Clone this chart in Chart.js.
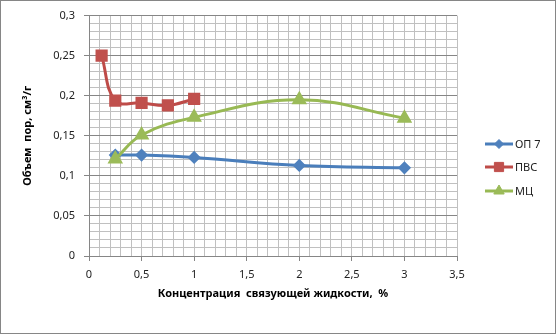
<!DOCTYPE html>
<html>
<head>
<meta charset="utf-8">
<script src="https://cdn.jsdelivr.net/npm/chart.js@4/dist/chart.umd.min.js"></script>
<style>
  body { margin: 0; background: #fff; }
  canvas { display: block; }
</style>
</head>
<body>
<canvas id="chart" width="556" height="334"></canvas>
<script>
// --- Data ---
const seriesNames = ['ОП 7', 'ПВС', 'МЦ'];
const opX = [0.25, 0.5, 1, 2, 3];
const opY = [0.126, 0.126, 0.123, 0.113, 0.110];
const pvsX = [0.12, 0.25, 0.5, 0.75, 1];
const pvsY = [0.25, 0.194, 0.191, 0.188, 0.196];
const mcX = [0.25, 0.5, 1, 2, 3];
const mcY = [0.121, 0.151, 0.173, 0.195, 0.172];

const xTitle = 'Концентрация  связующей жидкости,  %';
const yTitle = 'Объем  пор, см³/г';

const FONT = 'Noto Sans';
const MAJOR = '#868686';
const MINOR = '#c0c0c0';

const toPoints = (xs, ys) => xs.map((x, i) => ({ x: x, y: ys[i] }));
const isMult = (v, step) => Math.abs(v / step - Math.round(v / step)) < 1e-6;
const fmt = (v) => String(Math.round(v * 100) / 100).replace('.', ',');

const makeSet = (label, pts, line, fill, style, radius, order) => ({
    label: label,
    data: pts,
    borderColor: line,
    backgroundColor: fill,
    pointBackgroundColor: fill,
    pointBorderColor: fill,
    pointStyle: style,
    pointRadius: radius,
    borderWidth: 3,
    tension: 0.4,
    order: order
});

const datasets = [
    makeSet(seriesNames[0], toPoints(opX, opY), '#4a7ebb', '#4f81bd', 'rectRot', 4.5, 3),
    makeSet(seriesNames[1], toPoints(pvsX, pvsY), '#be4b48', '#c0504d', 'rect', 6.5, 2),
    makeSet(seriesNames[2], toPoints(mcX, mcY), '#98b954', '#9bbb59', 'triangle', 6, 1)
];

// frame + legend drawn like the spreadsheet original
const framePlugin = {
    id: 'frame',
    beforeDraw(chart) {
        const c = chart.ctx;
        c.save();
        c.fillStyle = '#fff';
        c.fillRect(0, 0, chart.width, chart.height);
        c.strokeStyle = MAJOR;
        c.lineWidth = 1;
        c.strokeRect(0.5, 0.5, chart.width - 1, chart.height - 1);
        c.restore();
    },
    afterDraw(chart) {
        const c = chart.ctx;
        const rows = [144, 167, 191];
        c.save();
        chart.data.datasets.forEach((ds, i) => {
            const y = rows[i];
            c.strokeStyle = ds.borderColor;
            c.lineWidth = 3;
            c.beginPath();
            c.moveTo(485, y);
            c.lineTo(513, y);
            c.stroke();
            c.fillStyle = ds.pointBackgroundColor;
            c.strokeStyle = ds.pointBorderColor;
            c.lineWidth = 1;
            Chart.helpers.drawPoint(c, { pointStyle: ds.pointStyle, radius: ds.pointRadius, rotation: 0, borderWidth: 1 }, 499, y);
            c.fillStyle = '#222';
            c.font = '11px "' + FONT + '"';
            c.textBaseline = 'middle';
            c.textAlign = 'left';
            c.fillText(ds.label, 515, y + 1);
        });
        c.restore();
    }
};

const ctx = document.getElementById('chart').getContext('2d');
new Chart(ctx, {
    type: 'line',
    data: { datasets: datasets },
    plugins: [framePlugin],
    options: {
        responsive: false,
        animation: false,
        layout: { padding: { top: 14, right: 99, bottom: 0, left: 0 } },
        plugins: { legend: { display: false }, tooltip: { enabled: false } },
        scales: {
            x: {
                type: 'linear',
                min: 0,
                max: 3.5,
                afterFit: (s) => { s.height = 78; },
                border: { color: MAJOR },
                grid: {
                    color: MINOR,
                    tickLength: 5,
                    tickColor: (c) => isMult(c.tick.value, 0.5) ? MAJOR : 'rgba(0,0,0,0)'
                },
                ticks: {
                    stepSize: 0.1,
                    autoSkip: false,
                    maxRotation: 0,
                    padding: 7,
                    color: '#222',
                    font: { family: FONT, size: 11 },
                    callback: (v) => isMult(v, 0.5) ? fmt(v) : ''
                },
                title: {
                    display: true,
                    text: xTitle,
                    color: '#000',
                    font: { family: FONT, size: 11, weight: 'bold' },
                    padding: { top: 0, bottom: 34 }
                }
            },
            y: {
                min: 0,
                max: 0.3,
                afterFit: (s) => { s.width = 89; },
                border: { color: MAJOR },
                grid: {
                    color: (c) => isMult(c.tick.value, 0.05) ? MAJOR : MINOR,
                    tickLength: 5,
                    tickColor: (c) => isMult(c.tick.value, 0.05) ? MAJOR : 'rgba(0,0,0,0)'
                },
                ticks: {
                    stepSize: 0.01,
                    autoSkip: false,
                    padding: 9,
                    color: '#222',
                    font: { family: FONT, size: 11 },
                    callback: (v) => isMult(v, 0.05) ? fmt(v) : ''
                },
                title: {
                    display: true,
                    text: yTitle,
                    color: '#000',
                    font: { family: FONT, size: 11, weight: 'bold' },
                    padding: { top: 21, bottom: 0 }
                }
            }
        }
    }
});
</script>
</body>
</html>
